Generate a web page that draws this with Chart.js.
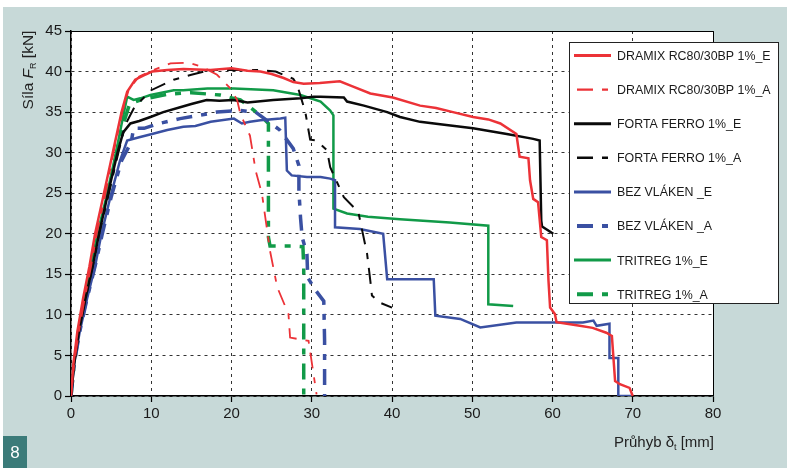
<!DOCTYPE html>
<html lang="cs">
<head>
<meta charset="UTF-8">
<title>Síla – průhyb</title>
<style>
  html, body { margin: 0; padding: 0; background: #fff; }
  #wrap { width: 787px; height: 468px; position: relative; }
</style>
</head>
<body>
<div id="wrap"><canvas id="graf" width="787" height="468"></canvas></div>

<script src="https://cdn.jsdelivr.net/npm/chart.js"></script>
<script>
// osy
const xTicks = [0, 10, 20, 30, 40, 50, 60, 70, 80];
const yTicks = [0, 5, 10, 15, 20, 25, 30, 35, 40, 45];

const labels = [
    'DRAMIX RC80/30BP 1%_E',
    'DRAMIX RC80/30BP 1%_A',
    'FORTA FERRO 1%_E',
    'FORTA FERRO 1%_A',
    'BEZ VLÁKEN _E',
    'BEZ VLÁKEN _A',
    'TRITREG 1%_E',
    'TRITREG 1%_A'
];

// průhyb [mm], síla [kN]
const dramixE = [[0,0],[0.3,4],[0.8,8],[1.5,12],[2.3,16],[3,20],[4,24.5],[5.2,30],[6.3,35],[7,37.5],[8,39],[9,39.5],[10.1,40],[12,40.2],[14,40.3],[17.4,40.2],[20,40.4],[22,40.1],[23.6,40],[25,39.7],[26.5,39.2],[27.7,38.7],[29,38.5],[31,38.6],[33.5,38.8],[35,38.2],[37.3,37.3],[40.1,36.8],[43.5,35.8],[45.5,35.5],[47.6,35],[50.1,34.4],[52,34.1],[53.5,33.6],[55.5,32.3],[55.9,29.5],[57,29.3],[57.2,26.6],[57.6,24.3],[58.2,23.9],[58.6,19.6],[59.3,19.2],[59.5,14.2],[59.7,10.9],[60.3,10.1],[60.5,9.1],[63.4,8.65],[65,8.4],[66.7,7.8],[67.4,7.4],[67.8,1.85],[68.4,1.45],[69.6,1.0],[70,0]];
const dramixA = [[0,0],[0.4,4],[1,8],[1.7,12],[2.5,16],[3.2,20],[4.2,24.5],[5.3,30],[6.4,35],[7.2,37.8],[8.5,39.4],[10.3,40.2],[12.4,41],[14.6,41.1],[16.3,40.6],[18.2,39.6],[19.9,37.9],[20.7,36.5],[21.1,34.8],[22.3,32.1],[22.7,29.7],[23,27.8],[23.8,24.9],[24.8,17.9],[25.7,13.4],[27.1,10.1],[27.3,7.2],[29.6,6.8],[30.6,0.2]];
const fortaE = [[0,0],[0.4,4],[1,8],[1.8,12],[2.7,16],[3.5,20],[4.5,24.5],[5.8,30],[6.5,32.5],[7.4,33.6],[8.5,33.9],[9.9,34.4],[11.5,35],[13.6,35.6],[15,36],[16.9,36.5],[18.5,36.4],[20.2,36.5],[22,36.2],[25.2,36.5],[28.6,36.7],[30.2,36.9],[31.1,36.9],[34,36.8],[34.4,36.3],[36.5,35.8],[39.4,35],[41,34.4],[43.5,33.8],[46,33.5],[50.1,33],[54.3,32.3],[57.6,31.7],[58.4,31.5],[58.6,21.6],[58.7,20.9],[60.1,20]];
const fortaA = [[0,0],[0.4,4],[1,8],[1.8,12],[2.7,16],[3.5,20],[4.6,24.5],[5.9,30],[6.8,33.5],[7.9,35.6],[10,37.7],[12.8,39],[15,39.6],[17.4,40.2],[20,40.2],[23.2,40.2],[25.5,40],[27.7,39.1],[28.2,38.3],[29.2,35],[29.8,31.6],[30.6,31.5],[31.9,30.3],[32.3,28.2],[34,24.5],[35.8,22.7],[36.2,20.8],[36.9,17.5],[37.3,14.2],[37.5,12.4],[38.5,11.5],[40,10.9]];
const bezE = [[0,0],[0.4,4],[1.1,8],[2,12],[3,16],[3.8,20],[4.9,24.5],[6.1,29],[7,31.5],[8.5,31.9],[10.1,32.3],[12,32.8],[14,33.2],[15.5,33.3],[17.4,33.8],[20.3,34.2],[21.3,33.6],[22.3,33.8],[23.6,34],[26.1,34.2],[26.7,34.3],[26.9,27.8],[27.5,27.2],[29.4,27],[31.1,27],[32.3,26.8],[32.9,26.6],[32.9,20.8],[36,20.6],[38.9,20],[39.4,14.4],[45.2,14.4],[45.4,9.9],[48.5,9.5],[51,8.45],[55.5,9.06],[58.4,9.06],[63.8,9.06],[65.1,9.3],[65.5,8.65],[67.1,8.9],[67.1,4.7],[68.2,4.7],[68.2,0],[70,0]];
const bezA = [[0,0],[0.4,4],[1.1,8],[2,12],[3,16],[3.9,20],[5,24.5],[6.3,29],[7.5,31.3],[7.8,33],[9.1,33],[11,33.6],[13.6,34.2],[16,34.6],[18.2,35],[21.1,35.2],[23,35],[25.2,33.4],[26,32.8],[27.7,30.5],[28.4,28.4],[28.4,25.3],[28.6,22],[28.8,19.6],[29.4,17.5],[29.5,14.6],[30.5,13],[31.5,11.7],[31.6,6.8],[31.6,0]];
const tritregE = [[0,0],[0.35,4],[0.9,8],[1.6,12],[2.5,16],[3.3,20],[4.4,24.5],[5.6,30],[6.3,33.5],[7,36.9],[7.8,36.5],[8.65,36.7],[9.9,37.1],[12.8,37.7],[14,37.7],[17,37.9],[20.3,37.9],[25.2,37.7],[28.6,37.1],[31.1,36.3],[32.3,35.2],[32.7,34.6],[32.7,23.1],[34.4,22.5],[37,22.1],[41,21.8],[47.2,21.4],[52,21],[52,11.3],[55.1,11.1]];
const tritregA = [[0,0],[0.4,4],[1,8],[1.7,12],[2.6,16],[3.4,20],[4.5,24.5],[5.7,30],[6.5,33.5],[7.3,36],[9,36.6],[12,37.2],[15,37.4],[18.6,37.1],[21.1,36.5],[22.3,35.6],[23.6,34.6],[24.6,33.6],[24.6,19.6],[24.8,18.5],[27.5,18.5],[28.9,18.4],[29,15.9],[29,0]];

const RED = '#ec3237', BLACK = '#0a0a0a', BLUE = '#3a50a2', GREEN = '#119a48';
const DASH = [16, 9, 6, 9];
const FONT = '"Liberation Sans", Arial, Helvetica, sans-serif';

function serie(i, data, color, width, dashed) {
    return {
        label: labels[i],
        data: data.map(p => ({ x: p[0], y: p[1] })),
        borderColor: color,
        backgroundColor: color,
        borderWidth: width,
        borderDash: dashed ? DASH : [],
        showLine: true,
        pointRadius: 0,
        tension: 0,
        fill: false
    };
}

const datasets = [
    serie(0, dramixE, RED, 2.5, false),
    serie(1, dramixA, RED, 1.8, true),
    serie(2, fortaE, BLACK, 2.5, false),
    serie(3, fortaA, BLACK, 2, true),
    serie(4, bezE, BLUE, 2.5, false),
    serie(5, bezA, BLUE, 3.5, true),
    serie(6, tritregE, GREEN, 2.5, false),
    serie(7, tritregA, GREEN, 3.5, true)
];

// pozadí, rámeček, popisky os a legenda
const kresba = {
    id: 'kresba',
    beforeDraw(chart) {
        const ctx = chart.ctx, a = chart.chartArea;
        ctx.save();
        ctx.fillStyle = '#fff';
        ctx.fillRect(0, 0, chart.width, chart.height);
        ctx.fillStyle = '#c7d9d8';
        ctx.fillRect(3, 7, chart.width - 3, chart.height - 7);
        ctx.fillStyle = '#fff';
        ctx.fillRect(a.left, a.top, a.right - a.left, a.bottom - a.top);
        // číslo obrázku
        ctx.fillStyle = '#3b7b79';
        ctx.fillRect(3, 436, 24, 32);
        ctx.fillStyle = '#fff';
        ctx.font = '17px ' + FONT;
        ctx.textAlign = 'center';
        ctx.textBaseline = 'middle';
        ctx.fillText('8', 15, 453);
        ctx.restore();
    },
    afterDraw(chart) {
        const ctx = chart.ctx, a = chart.chartArea;
        ctx.save();
        // horní a pravá hrana grafu
        ctx.strokeStyle = '#000';
        ctx.lineWidth = 1;
        ctx.beginPath();
        ctx.moveTo(a.left, a.top + 0.5);
        ctx.lineTo(a.right + 0.5, a.top + 0.5);
        ctx.lineTo(a.right + 0.5, a.bottom);
        ctx.stroke();

        // popis osy y: Síla F_R [kN]
        ctx.fillStyle = '#222';
        ctx.textBaseline = 'alphabetic';
        ctx.translate(33, 70);
        ctx.rotate(-Math.PI / 2);
        const parts = [
            { t: 'Síla ', f: '15.5px ' + FONT, dy: 0 },
            { t: 'F', f: 'italic 15.5px ' + FONT, dy: 0 },
            { t: 'R', f: '9px ' + FONT, dy: 3 },
            { t: ' [kN]', f: '15.5px ' + FONT, dy: 0 }
        ];
        let w = 0;
        parts.forEach(p => { ctx.font = p.f; w += ctx.measureText(p.t).width; });
        let x = -w / 2;
        parts.forEach(p => {
            ctx.font = p.f;
            ctx.fillText(p.t, x, p.dy);
            x += ctx.measureText(p.t).width;
        });
        ctx.setTransform(1, 0, 0, 1, 0, 0);

        // popis osy x: Průhyb δ_t [mm]
        const xp = [
            { t: 'Průhyb δ', f: '15px ' + FONT, dy: 0 },
            { t: 't', f: '9px ' + FONT, dy: 3 },
            { t: ' [mm]', f: '15px ' + FONT, dy: 0 }
        ];
        w = 0;
        xp.forEach(p => { ctx.font = p.f; w += ctx.measureText(p.t).width; });
        x = 714 - w;
        xp.forEach(p => {
            ctx.font = p.f;
            ctx.fillText(p.t, x, 447 + p.dy);
            x += ctx.measureText(p.t).width;
        });

        // legenda
        const lx = 569, ly = 42, lw = 209, lh = 261;
        ctx.fillStyle = '#fff';
        ctx.fillRect(lx, ly, lw, lh);
        ctx.strokeStyle = '#222';
        ctx.lineWidth = 1;
        ctx.strokeRect(lx + 0.5, ly + 0.5, lw, lh);
        ctx.font = '12.4px ' + FONT;
        ctx.textAlign = 'left';
        ctx.textBaseline = 'middle';
        chart.data.datasets.forEach((ds, i) => {
            const y = 55.5 + i * 34.1;
            ctx.strokeStyle = ds.borderColor;
            ctx.lineWidth = ds.borderWidth + 0.5;
            ctx.setLineDash(ds.borderDash);
            ctx.beginPath();
            ctx.moveTo(ds.borderDash.length ? 577 : 574, y);
            ctx.lineTo(611, y);
            ctx.stroke();
            ctx.setLineDash([]);
            ctx.fillStyle = '#1a1a1a';
            ctx.fillText(ds.label, 617, y + 1);
        });
        ctx.restore();
    }
};

const osa = (min, max, krok, hodnoty) => ({
    type: 'linear',
    min: min,
    max: max,
    afterBuildTicks: s => { s.ticks = hodnoty.map(v => ({ value: v })); },
    ticks: {
        stepSize: krok,
        color: '#1a1a1a',
        font: { family: FONT, size: 15 },
        padding: 3,
        maxRotation: 0,
        autoSkip: false
    },
    grid: {
        color: '#333',
        lineWidth: 1,
        tickLength: 6,
        tickColor: '#000',
        tickWidth: 1.2
    },
    border: { display: true, color: '#000', width: 1.5, dash: [3, 4] }
});

const xOsa = osa(0, 80, 10, xTicks);
xOsa.position = 'bottom';
xOsa.afterFit = s => { s.height = 72; };
const yOsa = osa(0, 45, 5, yTicks);
yOsa.afterFit = s => { s.width = 71; };

new Chart(document.getElementById('graf'), {
    type: 'scatter',
    data: { datasets: datasets },
    options: {
        responsive: false,
        animation: false,
        layout: { padding: { top: 31, right: 74, left: 0, bottom: 0 } },
        plugins: {
            legend: { display: false },
            tooltip: { enabled: false }
        },
        scales: { x: xOsa, y: yOsa }
    },
    plugins: [kresba]
});
</script>
</body>
</html>
